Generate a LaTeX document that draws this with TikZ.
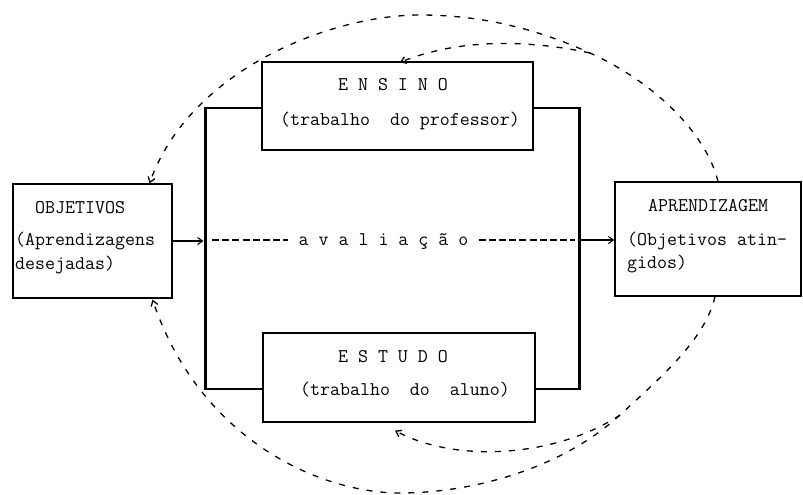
\documentclass[tikz,border=0pt]{standalone}
\usepackage{fontspec}
\usetikzlibrary{arrows.meta}
\begin{document}
\begin{tikzpicture}[x=1pt,y=-1pt,
  box/.style={draw,line width=1.3pt,inner sep=0pt},
  frame/.style={line width=2.6pt},
  tx/.style={inner sep=0pt,font=\fontsize{19.4}{22}\selectfont\ttfamily},
  arr/.style={line width=1.1pt,-{Straight Barb[length=5pt,width=7pt]}},
  arc/.style={line width=1.3pt,dash pattern=on 6pt off 8pt,-{Straight Barb[length=5pt,width=7pt]}},
  hyph/.style={line width=1.2pt,dash pattern=on 7pt off 3.2pt}]
\useasboundingbox (0,0) rectangle (803,495);
% boxes
\node[box,minimum width=159pt,minimum height=114pt] (O) at (92.5,241) {};
\node[box,minimum width=271pt,minimum height=88pt] (E) at (397.5,106) {};
\node[box,minimum width=272pt,minimum height=89pt] (S) at (399,377.5) {};
\node[box,minimum width=186pt,minimum height=114pt] (A) at (708,239) {};
% texts
\node[tx,anchor=base west] (o1) at (35,213) {OBJETIVOS};
\node[tx,anchor=base west] (o2) at (15,245) {(Aprendizagens};
\node[tx,anchor=base west] (o3) at (15,269) {desejadas)};
\node[tx,anchor=base] (e1) at (393,90) {E N S I N O};
\node[tx,anchor=base] (e2) at (400,125) {(trabalho\ \ do professor)};
\node[tx,anchor=base] (s1) at (393,362) {E S T U D O};
\node[tx,anchor=base] (s2) at (405,395) {(trabalho\ \ do\ \ aluno)};
\node[tx,anchor=base west] (a1) at (648,211) {APRENDIZAGEM};
\node[tx,anchor=base west] (a2) at (627,245) {(Objetivos atin-};
\node[tx,anchor=base west] (a3) at (627,268) {gidos)};
\node[tx,anchor=base] (av) at (383.5,245) {a v a l i a ç ã o};
% frame
\draw[frame] ([yshift=-2pt]E.west) -- ++(-56,0) |- ([yshift=-11.5pt]S.west);
\draw[frame] ([yshift=-2pt]E.east) -- ++(46,0) |- ([yshift=-11.5pt]S.east);
% arrows in the middle
\coordinate (fl) at (203.5,241);
\coordinate (fr) at (580,240);
\coordinate (dl) at (212,240);
\coordinate (dr) at (575,240);
\draw[arr] (O.east) -- (fl);
\draw[arr] (fr) -- (A.west |- fr);
\draw[hyph] (dl) -- ([xshift=-10pt]av.west |- dl);
\draw[hyph] ([xshift=10pt]av.east |- dr) -- (dr);
% dashed arcs
\coordinate (mt) at (590,53);
\coordinate (apx) at (420,15);
\coordinate (mb) at (620,415);
\coordinate (apb) at (400,493);
\draw[arc] ([xshift=10pt]A.north)
  .. controls (705,130) and (650,80) .. (mt)
  .. controls (535,28) and (480,15) .. (apx)
  .. controls (330,15) and (190,70) .. ([xshift=57pt]O.north);
\draw[arc] (mt)
  .. controls (530,40) and (460,38) .. ([xshift=2.5pt,yshift=-1pt]E.north);
\draw[arc] ([xshift=7pt]A.south)
  .. controls (705,340) and (660,378) .. (mb)
  .. controls (560,470) and (470,493) .. (apb)
  .. controls (320,493) and (200,440) .. ([xshift=60pt,yshift=-1pt]O.south);
\draw[arc] (mb)
  .. controls (560,455) and (460,465) .. ([xshift=-4pt,yshift=-8pt]S.south);
\end{tikzpicture}
\end{document}
